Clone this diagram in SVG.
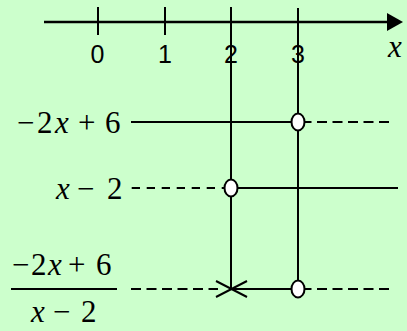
<svg xmlns="http://www.w3.org/2000/svg" width="407" height="331" viewBox="0 0 407 331">
<style>
.ln{stroke:#000;stroke-width:2;fill:none}
.ax{stroke:#000;stroke-width:2.7;fill:none}
.ds{stroke:#000;stroke-width:2;fill:none;stroke-dasharray:10 5.5}
.ds2{stroke:#000;stroke-width:2;fill:none;stroke-dasharray:8.3 6.7}
.pt{fill:#fff;stroke:#000;stroke-width:2}
</style>
<rect width="407" height="331" fill="#CCFFCC"/>
<g id="axis">
<line class="ax" x1="44" y1="22" x2="390" y2="22"/>
<polygon points="387,13 403,22 387,31" fill="#000"/>
<line class="ln" x1="98" y1="7" x2="98" y2="35"/>
<line class="ln" x1="165" y1="7" x2="165" y2="35"/>
<g font-family="'Liberation Sans', Arial, sans-serif" font-size="25" text-anchor="middle" fill="#000">
<text x="97.5" y="63">0</text>
<text x="165" y="63">1</text>
<text x="231" y="63">2</text>
<text x="298" y="63">3</text>
</g>
<text x="388" y="57" font-family="'Liberation Serif', 'Times New Roman', serif" font-size="31" font-style="italic" fill="#000">x</text>
</g>
<g id="labels" font-family="'Liberation Serif', 'Times New Roman', serif" font-size="31" fill="#000">
<text y="133"><tspan x="17">−</tspan><tspan x="37">2</tspan><tspan font-style="italic" x="55">x</tspan><tspan x="78">+</tspan><tspan x="105">6</tspan></text>
<text y="199"><tspan font-style="italic" x="56">x</tspan><tspan x="77">−</tspan><tspan x="107">2</tspan></text>
<text y="275"><tspan x="12">−</tspan><tspan x="31">2</tspan><tspan font-style="italic" x="48">x</tspan><tspan x="68">+</tspan><tspan x="96">6</tspan></text>
<line class="ln" x1="11" y1="289" x2="117" y2="289"/>
<text y="322"><tspan font-style="italic" x="31">x</tspan><tspan x="53">−</tspan><tspan x="81">2</tspan></text>
</g>
<g id="connectors">
<line class="ln" x1="231" y1="7" x2="231" y2="289"/>
<line class="ln" x1="298" y1="8" x2="298" y2="289"/>
<line class="ln" x1="131" y1="122" x2="298" y2="122"/>
<line class="ds" x1="301.5" y1="122" x2="391" y2="122"/>
<line class="ds2" x1="131.7" y1="188" x2="225" y2="188"/>
<line class="ln" x1="231" y1="188" x2="398" y2="188"/>
<line class="ds" x1="131" y1="289" x2="218" y2="289"/>
<line class="ln" x1="231" y1="289" x2="298" y2="289"/>
<line class="ds" x1="301.5" y1="289" x2="391" y2="289"/>
<line class="ln" x1="216" y1="281" x2="247" y2="297"/>
<line class="ln" x1="216" y1="297" x2="247" y2="281"/>
</g>
<g id="points">
<ellipse class="pt" cx="298" cy="122" rx="6.5" ry="8.5"/>
<ellipse class="pt" cx="231" cy="188" rx="6.5" ry="8.5"/>
<ellipse class="pt" cx="298" cy="289" rx="6.5" ry="8.5"/>
</g>
</svg>
